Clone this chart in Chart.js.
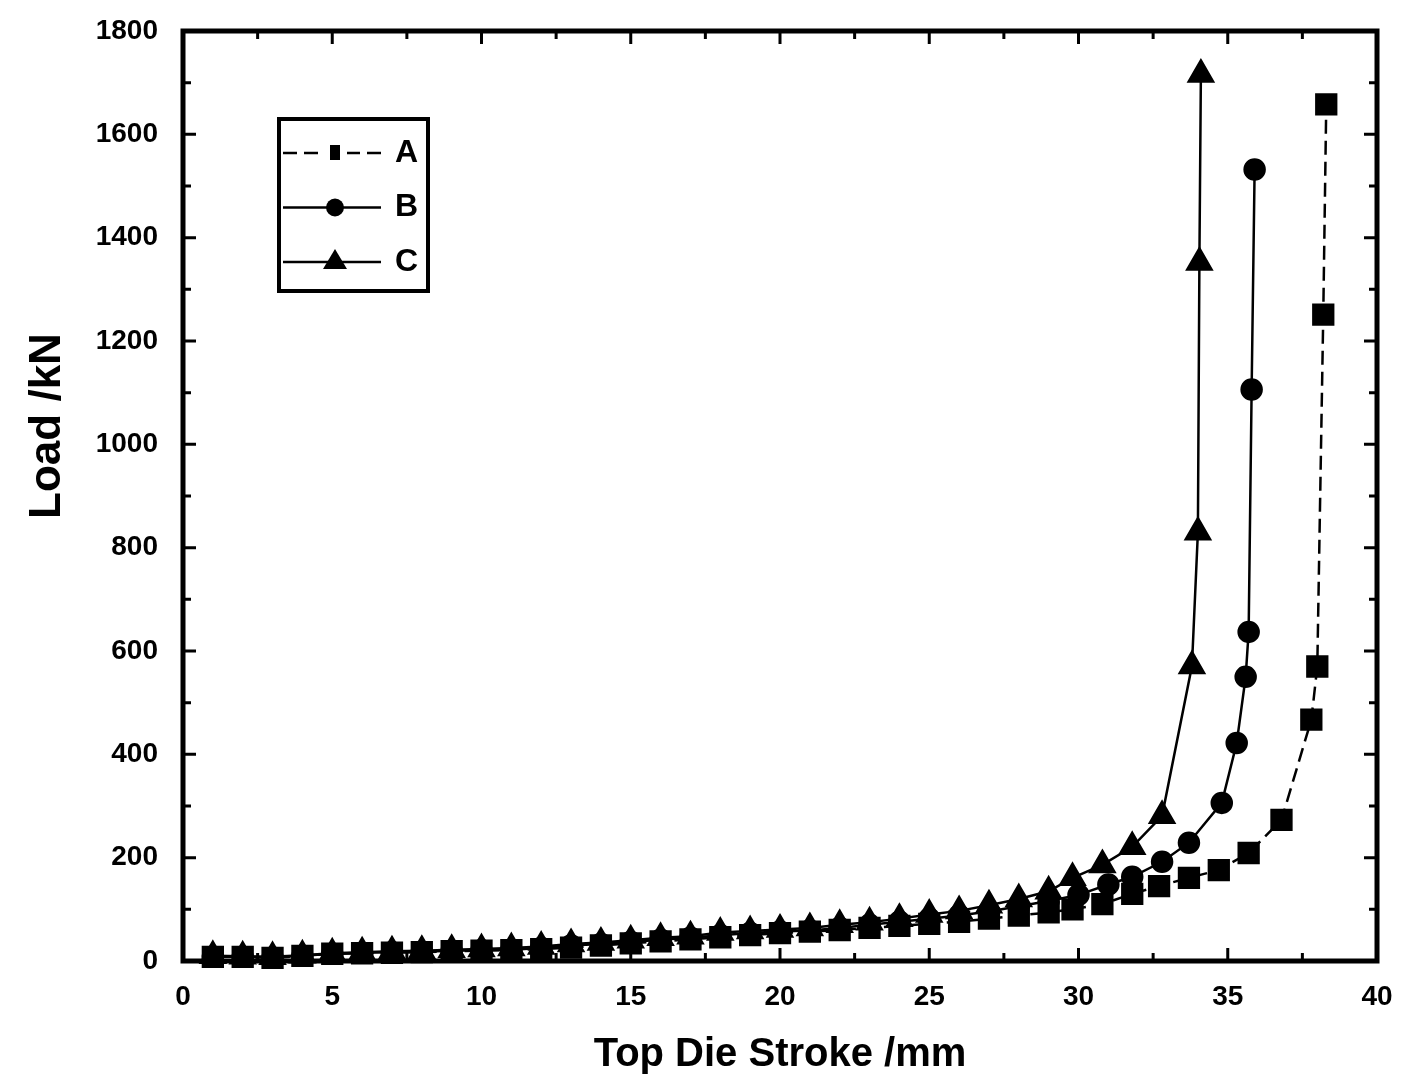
<!DOCTYPE html>
<html>
<head>
<meta charset="utf-8">
<title>Load vs Top Die Stroke</title>
<script src="https://cdn.jsdelivr.net/npm/chart.js@4.4.1/dist/chart.umd.min.js"></script>
<style>
  html, body { margin: 0; padding: 0; background: #fff; }
  #wrap { width: 1405px; height: 1082px; }
</style>
</head>
<body>
<div id="wrap"><canvas id="loadChart"></canvas></div>
<script>
// values: stroke in mm, load in kN
var strokeA = [1, 2, 3, 4, 5, 6, 7, 8, 9, 10, 11, 12, 13, 14, 15, 16, 17, 18, 19, 20,
  21, 22, 23, 24, 25, 26, 27, 28, 29, 29.8, 30.8, 31.8, 32.7, 33.7, 34.7, 35.7, 36.8, 37.8, 38.0, 38.2, 38.3];
var loadA = [8, 8, 6, 10, 14, 15, 16, 17, 19, 20, 21, 23, 26, 30, 34, 38, 42, 46, 50, 54,
  57, 60, 64, 68, 72, 76, 82, 88, 94, 100, 110, 130, 145, 161, 176, 209, 273, 467, 570, 1251, 1658];

var strokeB = [1, 2, 3, 4, 5, 6, 7, 8, 9, 10, 11, 12, 13, 14, 15, 16, 17, 18, 19, 20,
  21, 22, 23, 24, 25, 26, 27, 28, 29, 30, 31, 31.8, 32.8, 33.7, 34.8, 35.3, 35.6, 35.7, 35.8, 35.9];
var loadB = [8, 8, 7, 10, 14, 16, 17, 18, 20, 21, 22, 25, 30, 33, 37, 41, 45, 50, 54, 57,
  59, 64, 70, 76, 82, 88, 96, 106, 116, 128, 148, 163, 192, 229, 306, 422, 550, 637, 1106, 1532];

var strokeC = [1, 2, 3, 4, 5, 6, 7, 8, 9, 10, 11, 12, 13, 14, 15, 16, 17, 18, 19, 20,
  21, 22, 23, 24, 25, 26, 27, 28, 29, 29.8, 30.8, 31.8, 32.8, 33.8, 34.0, 34.05, 34.1];
var loadC = [10, 9, 8, 11, 15, 17, 19, 20, 22, 23, 25, 28, 33, 36, 40, 45, 48, 55, 58, 61,
  64, 70, 75, 82, 90, 97, 108, 120, 135, 161, 186, 221, 281, 571, 830, 1352, 1716];

var seriesNames = ["A", "B", "C"];
var xTicks = [0, 5, 10, 15, 20, 25, 30, 35, 40];
var yTicks = [0, 200, 400, 600, 800, 1000, 1200, 1400, 1600, 1800];
var xTitle = "Top Die Stroke /mm";
var yTitle = "Load /kN";

var fontFamily = "'Liberation Sans', Arial, sans-serif";

function toPoints(xs, ys) {
  return xs.map(function (x, i) { return { x: x, y: ys[i] }; });
}

// box round the plot with inward ticks, like the original
var frameTicks = {
  id: "frameTicks",
  afterDatasetsDraw: function (chart) {
    var ctx = chart.ctx, a = chart.chartArea;
    var xs = chart.scales.x, ys = chart.scales.y;
    ctx.save();
    ctx.strokeStyle = "#000";
    ctx.lineWidth = 3;
    ctx.beginPath();
    for (var v = 0; v <= 40; v += 2.5) {
      var px = xs.getPixelForValue(v);
      var len = v % 5 === 0 ? 13 : 8;
      ctx.moveTo(px, a.bottom); ctx.lineTo(px, a.bottom - len);
      ctx.moveTo(px, a.top); ctx.lineTo(px, a.top + len);
    }
    for (var w = 0; w <= 1800; w += 100) {
      var py = ys.getPixelForValue(w);
      var l2 = w % 200 === 0 ? 13 : 8;
      ctx.moveTo(a.left, py); ctx.lineTo(a.left + l2, py);
      ctx.moveTo(a.right, py); ctx.lineTo(a.right - l2, py);
    }
    ctx.stroke();
    ctx.lineWidth = 5;
    ctx.strokeRect(a.left, a.top, a.right - a.left, a.bottom - a.top);

    // y title sits a little above the middle of the axis in the original
    ctx.fillStyle = "#000";
    ctx.font = "bold 44px " + fontFamily;
    ctx.textAlign = "center";
    ctx.textBaseline = "middle";
    ctx.translate(48, (a.top + a.bottom) / 2 - 70);
    ctx.rotate(-Math.PI / 2);
    ctx.fillText(yTitle, 0, 0);
    ctx.restore();
  }
};

// boxed legend inside the plot, top left
var insetLegend = {
  id: "insetLegend",
  afterDraw: function (chart) {
    var ctx = chart.ctx, a = chart.chartArea;
    var bx = a.left + 96, by = a.top + 88, bw = 149, bh = 172;
    ctx.save();
    ctx.fillStyle = "#fff";
    ctx.fillRect(bx, by, bw, bh);
    ctx.strokeStyle = "#000";
    ctx.lineWidth = 4;
    ctx.strokeRect(bx, by, bw, bh);
    chart.data.datasets.forEach(function (ds, i) {
      var y = by + 34 + i * 54.5;
      var mx = bx + 56;
      ctx.strokeStyle = "#000";
      ctx.fillStyle = "#000";
      ctx.lineWidth = 2.5;
      ctx.setLineDash(ds.borderDash || []);
      ctx.beginPath();
      ctx.moveTo(bx + 4, y); ctx.lineTo(bx + 102, y);
      ctx.stroke();
      ctx.setLineDash([]);
      ctx.beginPath();
      if (ds.pointStyle === "rect") {
        ctx.fillStyle = "#fff";
        ctx.fillRect(mx - 12, y - 8, 24, 16);
        ctx.fillStyle = "#000";
        ctx.fillRect(mx - 5, y - 8, 10, 15);
      } else if (ds.pointStyle === "circle") {
        ctx.arc(mx, y, 9, 0, Math.PI * 2);
        ctx.fill();
      } else {
        ctx.moveTo(mx, y - 13); ctx.lineTo(mx + 12, y + 7); ctx.lineTo(mx - 12, y + 7);
        ctx.closePath();
        ctx.fill();
      }
      ctx.font = "bold 32px " + fontFamily;
      ctx.textBaseline = "middle";
      ctx.textAlign = "left";
      ctx.fillText(seriesNames[i], bx + 116, y);
    });
    ctx.restore();
  }
};

var ctx = document.getElementById("loadChart").getContext("2d");
var loadChart = new Chart(ctx, {
  type: "line",
  data: {
    datasets: [
      {
        label: seriesNames[0],
        data: toPoints(strokeA, loadA),
        borderColor: "#000",
        backgroundColor: "#000",
        borderWidth: 2.5,
        borderDash: [14, 7],
        pointStyle: "rect",
        pointRadius: 14,
        clip: false
      },
      {
        label: seriesNames[1],
        data: toPoints(strokeB, loadB),
        borderColor: "#000",
        backgroundColor: "#000",
        borderWidth: 2.5,
        pointStyle: "circle",
        pointRadius: 10,
        clip: false
      },
      {
        label: seriesNames[2],
        data: toPoints(strokeC, loadC),
        borderColor: "#000",
        backgroundColor: "#000",
        borderWidth: 2.5,
        pointStyle: "triangle",
        pointRadius: 14,
        clip: false
      }
    ]
  },
  options: {
    responsive: true,
    maintainAspectRatio: false,
    animation: false,
    layout: { padding: { top: 31, right: 28, left: 0, bottom: 0 } },
    plugins: {
      legend: { display: false },
      tooltip: { enabled: false }
    },
    elements: {
      line: { tension: 0 },
      point: { borderWidth: 1 }
    },
    scales: {
      x: {
        type: "linear",
        min: 0,
        max: 40,
        afterBuildTicks: function (scale) {
          scale.ticks = xTicks.map(function (v) { return { value: v }; });
        },
        afterFit: function (scale) {
          scale.height = 121;
          scale.paddingLeft = 0;
          scale.paddingRight = 0;
        },
        ticks: {
          padding: 19,
          maxRotation: 0,
          color: "#000",
          font: { family: fontFamily, size: 28, weight: "bold" },
          callback: function (value) { return String(value); }
        },
        grid: { display: false, drawTicks: false },
        border: { display: false },
        title: {
          display: true,
          text: xTitle,
          color: "#000",
          font: { family: fontFamily, size: 40, weight: "bold" },
          padding: { top: 0, bottom: 3 }
        }
      },
      y: {
        min: 0,
        max: 1800,
        afterBuildTicks: function (scale) {
          scale.ticks = yTicks.map(function (v) { return { value: v }; });
        },
        afterFit: function (scale) {
          scale.width = 183;
          scale.paddingTop = 0;
          scale.paddingBottom = 0;
        },
        ticks: {
          padding: 25,
          color: "#000",
          font: { family: fontFamily, size: 28, weight: "bold" },
          callback: function (value) { return String(value); }
        },
        grid: { display: false, drawTicks: false },
        border: { display: false }
      }
    }
  },
  plugins: [frameTicks, insetLegend]
});
</script>
</body>
</html>
